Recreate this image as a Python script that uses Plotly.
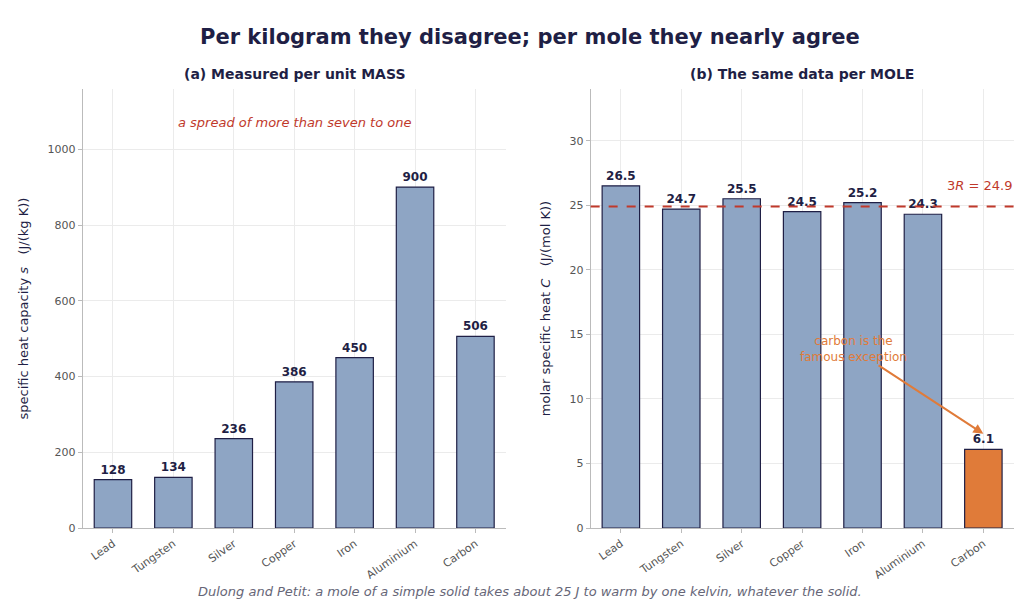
import plotly.graph_objects as go

metals = ["Lead", "Tungsten", "Silver", "Copper", "Iron", "Aluminium", "Carbon"]
per_mass = [128, 134, 236, 386, 450, 900, 506]
per_mole = [26.5, 24.7, 25.5, 24.5, 25.2, 24.3, 6.1]
three_r = 24.9

navy = "#1F1F45"
blue = "#8EA5C4"
orange = "#E07B39"
red = "#C0392B"

fig = go.Figure()
fig.add_trace(go.Bar(x=metals, y=per_mass, marker=dict(color=blue, line=dict(color=navy, width=1.2)),
                     width=0.62, text=[f"<b>{v}</b>" for v in per_mass], textposition="outside",
                     textfont=dict(size=12, color=navy, family="DejaVu Sans"), cliponaxis=False,
                     xaxis="x", yaxis="y", showlegend=False))
colors = [orange if m == "Carbon" else blue for m in metals]
fig.add_trace(go.Bar(x=metals, y=per_mole, marker=dict(color=colors, line=dict(color=navy, width=1.2)),
                     width=0.62, text=[f"<b>{v:.1f}</b>" for v in per_mole], textposition="outside",
                     textfont=dict(size=12, color=navy, family="DejaVu Sans"), cliponaxis=False,
                     xaxis="x2", yaxis="y2", showlegend=False))

axis_common = dict(showgrid=True, gridcolor="#EBEBEB", showline=True, linecolor="#BBBBBB",
                   tickfont=dict(size=11, color="#555"), zeroline=False, ticks="outside",
                   tickcolor="#BBBBBB", ticklen=4)
fig.update_layout(
    width=1024, height=616, paper_bgcolor="white", plot_bgcolor="white",
    margin=dict(l=0, r=0, t=0, b=0), font=dict(family="DejaVu Sans", color=navy),
    xaxis=dict(domain=[0.073, 0.486], anchor="y", tickangle=-35, **axis_common),
    yaxis=dict(domain=[0.146, 0.867], anchor="x", range=[0, 1159], dtick=200,
               title=dict(text="specific heat capacity <i>s</i>   (J/(kg K))", font=dict(size=13, color=navy)),
               **axis_common),
    xaxis2=dict(domain=[0.569, 0.982], anchor="y2", tickangle=-35, **axis_common),
    yaxis2=dict(domain=[0.146, 0.867], anchor="x2", range=[0, 34], dtick=5,
                title=dict(text="molar specific heat <i>C</i>   (J/(mol K))", font=dict(size=13, color=navy)),
                **axis_common),
)

fig.add_shape(type="line", xref="x2 domain", yref="y2", x0=0, x1=1, y0=three_r, y1=three_r,
              line=dict(color=red, width=2.2, dash="dash"))

ann = [
    dict(text="<b>Per kilogram they disagree; per mole they nearly agree</b>", x=0.51, y=0.953,
         font=dict(size=21, color=navy)),
    dict(text="<b>(a) Measured per unit MASS</b>", x=0.28, y=0.891, font=dict(size=14, color=navy)),
    dict(text="<b>(b) The same data per MOLE</b>", x=0.775, y=0.891, font=dict(size=14, color=navy)),
    dict(text="<i>a spread of more than seven to one</i>", x=0.5, y=1070, xref="x domain", yref="y",
         font=dict(size=13, color=red)),
    dict(text="3<i>R</i> = 24.9", x=1, xanchor="right", y=26.5, xref="x2 domain", yref="y2",
         font=dict(size=13, color=red)),
    dict(text="carbon is the<br>famous exception", x="Carbon", y=7.3, xref="x2", yref="y2",
         ax=-130, ay=-85, showarrow=True, arrowhead=2, arrowsize=1, arrowwidth=2,
         arrowcolor=orange, font=dict(size=12, color=orange)),
    dict(text="<i>Dulong and Petit: a mole of a simple solid takes about 25 J to warm by one kelvin, whatever the solid.</i>",
         x=0.51, y=0.042, font=dict(size=13, color="#666677")),
]
for a in ann:
    a.setdefault("xref", "paper")
    a.setdefault("yref", "paper")
    a.setdefault("showarrow", False)
    a.setdefault("xanchor", "center")
    a.setdefault("yanchor", "middle")
fig.update_layout(annotations=ann)

fig.write_html("out.html")
